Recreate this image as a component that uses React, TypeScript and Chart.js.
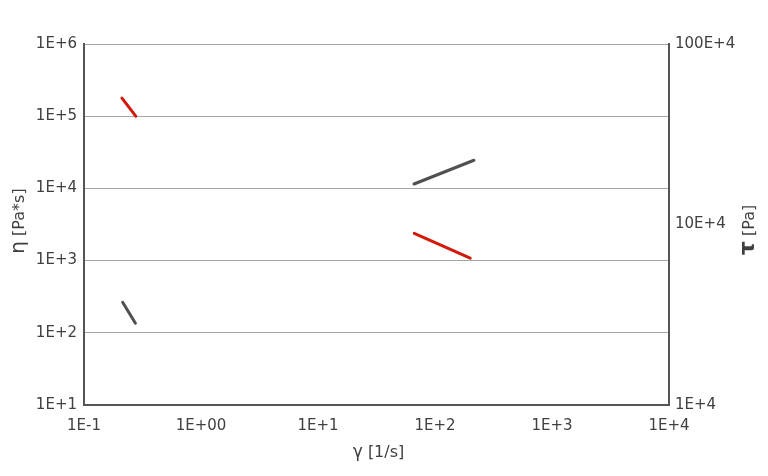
import React, { useEffect, useRef } from "react";
import { Chart, registerables } from "chart.js";

Chart.register(...registerables);

// Shear rate (1/s) and viscosity (Pa*s) – red
const etaLowShear = [0.211, 0.277];
const etaLow = [178000, 100000];
const etaHighShear = [66.5, 200];
const etaHigh = [2390, 1080];

// Shear rate (1/s) and shear stress (Pa) – gray
const tauLowShear = [0.214, 0.275];
const tauLow = [37100, 28400];
const tauHighShear = [66.2, 215];
const tauHigh = [167600, 227000];

// Tick values and labels
const xTickValues = [0.1, 1, 10, 100, 1000, 10000];
const xTickLabels = ["1E-1", "1E+00", "1E+1", "1E+2", "1E+3", "1E+4"];
const yTickValues = [10, 100, 1000, 10000, 100000, 1000000];
const yTickLabels = ["1E+1", "1E+2", "1E+3", "1E+4", "1E+5", "1E+6"];
const y2TickValues = [10000, 100000, 1000000];
const y2TickLabels = ["1E+4", "10E+4", "100E+4"];

const RED = "#d21a0a";
const GRAY = "#505050";
const TEXT = "#404040";
const AXIS = "#555555";
const FONT = "DejaVu Sans";

const pts = (xs: number[], ys: number[]) => xs.map((x, i) => ({ x, y: ys[i] }));

const titlePlugin = {
  id: "axisTitles",
  afterDraw(chart: any) {
    const ctx = chart.ctx as CanvasRenderingContext2D;
    const drawPair = (
      cx: number,
      baseY: number,
      rot: number,
      sym: string,
      symFont: string,
      rest: string
    ) => {
      ctx.save();
      ctx.fillStyle = TEXT;
      ctx.textBaseline = "alphabetic";
      ctx.textAlign = "left";
      ctx.font = symFont;
      const w1 = ctx.measureText(sym).width;
      ctx.font = `16px ${FONT}`;
      const w2 = ctx.measureText(rest).width;
      const total = w1 + w2;
      ctx.translate(cx, baseY);
      ctx.rotate(rot);
      ctx.font = symFont;
      ctx.fillText(sym, -total / 2, 0);
      ctx.font = `16px ${FONT}`;
      ctx.fillText(rest, -total / 2 + w1, 0);
      ctx.restore();
    };
    const area = chart.chartArea;
    // bottom
    drawPair((area.left + area.right) / 2 + 2, 457, 0, "γ", `17px ${FONT}`, " [1/s]");
    // left (rotated): position is (baseline x, center y)
    ctx.save();
    drawPair(24, 221, -Math.PI / 2, "η", `20px ${FONT}`, " [Pa*s]");
    ctx.restore();
    // right
    drawPair(754, 230, -Math.PI / 2, "τ", `bold 22px ${FONT}`, " [Pa]");
  },
};

export default function App() {
  const ref = useRef<HTMLCanvasElement | null>(null);

  useEffect(() => {
    document.body.style.margin = "0";
    if (!ref.current) return;
    const tickFont = { family: FONT, size: 15 };
    const chart = new Chart(ref.current, {
      type: "scatter",
      data: {
        datasets: [
          { data: pts(etaLowShear, etaLow), borderColor: RED, yAxisID: "y" },
          { data: pts(etaHighShear, etaHigh), borderColor: RED, yAxisID: "y" },
          { data: pts(tauLowShear, tauLow), borderColor: GRAY, yAxisID: "y2" },
          { data: pts(tauHighShear, tauHigh), borderColor: GRAY, yAxisID: "y2" },
        ].map((d) => ({
          ...d,
          showLine: true,
          borderWidth: 3,
          borderCapStyle: "round" as const,
          pointRadius: 0,
          pointHoverRadius: 0,
          backgroundColor: d.borderColor,
        })),
      },
      options: {
        animation: false,
        responsive: false,
        devicePixelRatio: 1,
        layout: { padding: { top: 44, left: 0, right: 0, bottom: 0 } },
        plugins: { legend: { display: false }, tooltip: { enabled: false } },
        scales: {
          x: {
            type: "logarithmic",
            min: 0.1,
            max: 10000,
            afterBuildTicks: (s: any) => {
              s.ticks = xTickValues.map((v) => ({ value: v }));
            },
            afterFit: (s: any) => {
              s.height = 71;
            },
            ticks: {
              callback: (_v: any, i: number) => xTickLabels[i],
              autoSkip: false,
              maxRotation: 0,
              padding: 12,
              font: tickFont,
              color: TEXT,
            },
            grid: { display: false, drawTicks: false },
            border: { display: true, color: AXIS, width: 2 },
          },
          y: {
            type: "logarithmic",
            position: "left",
            min: 10,
            max: 1000000,
            afterBuildTicks: (s: any) => {
              s.ticks = yTickValues.map((v) => ({ value: v }));
            },
            afterFit: (s: any) => {
              s.width = 84;
            },
            ticks: {
              callback: (_v: any, i: number) => yTickLabels[i],
              autoSkip: false,
              padding: 7,
              font: tickFont,
              color: TEXT,
            },
            grid: { color: "#a6a6a6", lineWidth: 1, drawTicks: false },
            border: { display: true, color: AXIS, width: 2 },
          },
          y2: {
            type: "logarithmic",
            position: "right",
            min: 10000,
            max: 1000000,
            afterBuildTicks: (s: any) => {
              s.ticks = y2TickValues.map((v) => ({ value: v }));
            },
            afterFit: (s: any) => {
              s.width = 99;
            },
            ticks: {
              callback: (_v: any, i: number) => y2TickLabels[i],
              autoSkip: false,
              padding: 6,
              font: tickFont,
              color: TEXT,
            },
            grid: { display: false, drawTicks: false },
            border: { display: true, color: AXIS, width: 2 },
          },
        },
      },
      plugins: [titlePlugin],
    });
    return () => chart.destroy();
  }, []);

  return (
    <div style={{ width: 768, height: 476 }}>
      <canvas ref={ref} width={768} height={476} />
    </div>
  );
}
